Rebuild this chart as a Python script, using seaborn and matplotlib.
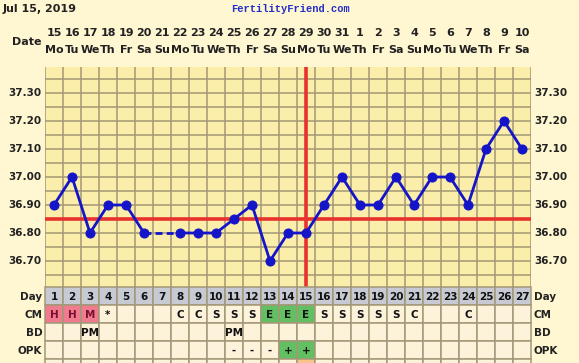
import pandas as pd
import numpy as np
import seaborn as sns
import matplotlib.pyplot as plt
from matplotlib.patches import Rectangle

# dữ liệu biểu đồ nhiệt độ
days = list(range(1, 28))
dates = pd.date_range("2019-07-15", periods=27)
day_nums = [str(d.day) for d in dates]
weekdays = [d.strftime("%a")[:2] for d in dates]

temps = [36.90, 37.00, 36.80, 36.90, 36.90, 36.80, np.nan, 36.80, 36.80, 36.80,
         36.85, 36.90, 36.70, 36.80, 36.80, 36.90, 37.00, 36.90, 36.90, 37.00,
         36.90, 37.00, 37.00, 36.90, 37.10, 37.20, 37.10]
coverline = 36.85
ovulation_day = 15

cm = ["H", "H", "M", "*", "", "", "", "C", "C", "S", "S", "S", "E", "E", "E",
      "S", "S", "S", "S", "S", "C", "", "", "C", "", "", ""]
bd = ["", "", "PM", "", "", "", "", "", "", "", "PM", "", "", "", "", "",
      "", "", "", "", "", "", "", "", "", "", ""]
opk = ["", "", "", "", "", "", "", "", "", "", "-", "-", "-", "+", "+", "",
       "", "", "", "", "", "", "", "", "", "", ""]

df = pd.DataFrame({"day": days, "temp": temps})

BG = "#FFF6D2"
PLOT_BG = "#FBEDAA"
GRID = "#A39877"
BLUE = "#1414C8"
RED = "#E8322E"

sns.set_style("white")
plt.rcParams["font.family"] = ["DejaVu Sans"]

W, H = 579, 363
fig = plt.figure(figsize=(W / 100, H / 100), dpi=100, facecolor=BG)

def box(x0, y0, x1, y1):
    return [x0 / W, 1 - y1 / H, (x1 - x0) / W, (y1 - y0) / H]

# vùng nhiệt độ
ax = fig.add_axes(box(45, 67, 531, 287))
ax.set_facecolor(PLOT_BG)
ax.set_xlim(0.5, 27.5)
ax.set_ylim(36.607, 37.393)
for x in np.arange(0.5, 28, 1):
    ax.axvline(x, color=GRID, lw=1.1, zorder=1)
for y in np.arange(36.65, 37.40, 0.05):
    ax.axhline(y, color=GRID, lw=1.1, zorder=1)

ax.axhline(coverline, color=RED, lw=2.6, zorder=2)
ax.axvline(ovulation_day, color=RED, lw=2.6, zorder=2)

seg1 = df[df.day <= 6]
seg2 = df[df.day >= 8]
for seg in (seg1, seg2):
    sns.lineplot(data=seg, x="day", y="temp", ax=ax, color=BLUE, lw=2,
                 marker="o", markersize=6.5, markeredgecolor=BLUE, zorder=3)
gap = df[df.day.isin([6, 8])]
ax.plot(gap.day, gap.temp, color=BLUE, lw=2, ls=(0, (2.5, 1.5)), zorder=3)

ax.set_xlabel("")
ax.set_ylabel("")
ax.set_xticks([])
ax.set_yticks([])
for s in ax.spines.values():
    s.set_visible(False)

for t in np.arange(36.70, 37.31, 0.10):
    ax.text(0.5 - 0.2, t, f"{t:.2f}", ha="right", va="center",
            fontsize=7.5, fontweight="bold", color="#222222")
    ax.text(27.5 + 0.2, t, f"{t:.2f}", ha="left", va="center",
            fontsize=7.5, fontweight="bold", color="#222222")

top = 37.393
for d, n, w in zip(days, day_nums, weekdays):
    ax.text(d, top + 34 / 280, n, ha="center", va="center",
            fontsize=8, fontweight="bold", color="#222222", clip_on=False)
    ax.text(d, top + 17 / 280, w, ha="center", va="center",
            fontsize=8, fontweight="bold", color="#222222", clip_on=False)
ax.text(0.5 - 0.2, top + 25 / 280, "Date", ha="right", va="center",
        fontsize=8, fontweight="bold", color="#222222", clip_on=False)

fig.text(3 / W, 1 - 9 / H, "Jul 15, 2019", ha="left", va="center",
         fontsize=8, fontweight="bold", color="#222222")
fig.text(290 / W, 1 - 9 / H, "FertilityFriend.com", ha="center", va="center",
         fontsize=7.5, fontweight="bold", color="#2230C8",
         family=["Liberation Mono", "DejaVu Sans Mono"])

# bảng bên dưới
tb = fig.add_axes(box(45, 287, 531, 363))
tb.set_xlim(0.5, 27.5)
tb.set_ylim(76 / 18, 0)
tb.axis("off")

rows = [("Day", day_nums), ("CM", cm), ("BD", bd), ("OPK", opk),
        ("", [""] * 27)]
for r, (label, vals) in enumerate(rows):
    for i, v in enumerate(vals):
        d = days[i]
        if r == 0:
            fc = "#C7CAD3"
        elif label == "CM" and v in ("H", "M"):
            fc = "#F07A8E"
        elif (label == "CM" and v == "E") or (label == "OPK" and v == "+"):
            fc = "#62C063"
        elif r == 4 and d == ovulation_day:
            fc = "#F8C48C"
        else:
            fc = "#FDF2DA"
        tb.add_patch(Rectangle((d - 0.5, r), 1, 1, facecolor=fc,
                               edgecolor=GRID, lw=1.1, clip_on=False))
        if r == 0:
            v = str(d)
        if v:
            col = "#7A1030" if v in ("H", "M") else "#111111"
            tb.text(d, r + 0.55, v, ha="center", va="center", fontsize=7.5,
                    fontweight="bold", color=col)
    if label:
        tb.text(0.5 - 0.15, r + 0.55, label, ha="right", va="center",
                fontsize=7.5, fontweight="bold", color="#222222", clip_on=False)
        tb.text(27.5 + 0.15, r + 0.55, label, ha="left", va="center",
                fontsize=7.5, fontweight="bold", color="#222222", clip_on=False)

fig.savefig("out.png", dpi=100, facecolor=BG)
